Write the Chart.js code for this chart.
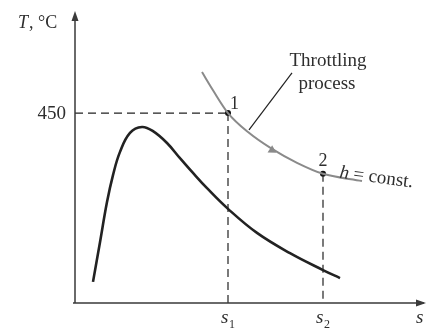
<!DOCTYPE html>
<html>
<head>
<meta charset="utf-8">
<script src="https://cdn.jsdelivr.net/npm/chart.js@4.4.1/dist/chart.umd.min.js"></script>
<style>
  html, body { margin: 0; padding: 0; background: #fff; }
  canvas { display: block; }
</style>
</head>
<body>
<canvas id="tsChart" width="427" height="328"></canvas>
<script>
// T-s diagram of a throttling process (arbitrary entropy units)
const DOME_S = [1.8, 2.5, 3.2, 3.8, 4.5, 5.5, 6.7, 7.8, 9.2, 10.5, 11.8, 13.2, 15.3, 18.2, 21.5, 24.8, 26.5];
const DOME_T = [50, 144, 239, 303, 358, 403, 417, 407, 379, 343, 308, 272, 223, 166, 118, 78, 59];

// constant-enthalpy line
const H_S = [12.7, 13.8, 15.3, 17.3, 19.7, 22.2, 24.8, 28.7];
const H_T = [547, 504, 450, 405, 365, 332, 306, 289];

// states 1 and 2
const STATE_NAMES = ['1', '2'];
const STATE_S = [15.3, 24.8];
const STATE_T = [450, 306];

// leader line for the "Throttling process" note, and the flow arrow
const LEADER_S = [21.7, 17.4];
const LEADER_T = [545, 410];
const ARROW_S = [19.7];
const ARROW_T = [362];

const Y_TICK = 450;
const X_TICK_LABELS = ['1', '2']; // s1, s2

const S_MAX = 34.7;
const T_MAX = 687;

const zip = (xs, ys) => xs.map((x, i) => ({ x: x, y: ys[i] }));

const INK = '#222';
const GREY = '#8a8a8a';
const SERIF = "'Liberation Serif', 'DejaVu Serif', serif";

const dashLine = (pts) => ({
    data: pts,
    showLine: true,
    borderColor: INK,
    borderWidth: 1.2,
    borderDash: [8, 5],
    pointRadius: 0,
    tension: 0
});

/* ---------- axes, arrows and text ---------- */
const decorPlugin = {
    id: 'decor',
    afterDraw(chart) {
        const ctx = chart.ctx;
        const xs = chart.scales.x, ys = chart.scales.y;
        const a = chart.chartArea;
        const X = v => xs.getPixelForValue(v);
        const Y = v => ys.getPixelForValue(v);

        ctx.save();
        ctx.strokeStyle = '#3a3a3a';
        ctx.fillStyle = '#3a3a3a';
        ctx.lineWidth = 1.5;

        // axes
        ctx.beginPath();
        ctx.moveTo(a.left, a.bottom);
        ctx.lineTo(a.left, a.top + 2);
        ctx.moveTo(a.left - 2, a.bottom);
        ctx.lineTo(a.right + 2, a.bottom);
        ctx.stroke();

        // arrowheads
        ctx.beginPath();
        ctx.moveTo(a.left, a.top - 2);
        ctx.lineTo(a.left - 3.5, a.top + 8);
        ctx.lineTo(a.left + 3.5, a.top + 8);
        ctx.closePath();
        ctx.fill();
        ctx.beginPath();
        ctx.moveTo(a.right + 4, a.bottom);
        ctx.lineTo(a.right - 6, a.bottom - 3.5);
        ctx.lineTo(a.right - 6, a.bottom + 3.5);
        ctx.closePath();
        ctx.fill();

        ctx.fillStyle = '#2e2e2e';
        ctx.textBaseline = 'alphabetic';

        // y label
        ctx.font = 'italic 18px ' + SERIF;
        ctx.textAlign = 'left';
        ctx.fillText('T', 18, 28);
        ctx.font = '18px ' + SERIF;
        ctx.fillText(', °C', 29, 28);

        // y tick
        ctx.textAlign = 'right';
        ctx.textBaseline = 'middle';
        ctx.font = '19px ' + SERIF;
        ctx.fillText(String(Y_TICK), a.left - 9, Y(Y_TICK) + 1);

        // x tick labels s1, s2 and axis name s
        ctx.textBaseline = 'alphabetic';
        STATE_S.forEach((s, i) => {
            const px = X(s);
            ctx.textAlign = 'left';
            ctx.font = 'italic 19px ' + SERIF;
            ctx.fillText('s', px - 7, a.bottom + 20);
            ctx.font = '12px ' + SERIF;
            ctx.fillText(X_TICK_LABELS[i], px + 1, a.bottom + 25);
        });
        ctx.font = 'italic 19px ' + SERIF;
        ctx.fillText('s', a.right - 6, a.bottom + 20);

        // state labels
        ctx.font = '18px ' + SERIF;
        ctx.textAlign = 'left';
        ctx.fillText(STATE_NAMES[0], X(STATE_S[0]) + 2, Y(STATE_T[0]) - 4);
        ctx.textAlign = 'center';
        ctx.fillText(STATE_NAMES[1], X(STATE_S[1]), Y(STATE_T[1]) - 8);

        // note
        ctx.font = '19px ' + SERIF;
        ctx.textAlign = 'center';
        ctx.fillText('Throttling', 328, 66);
        ctx.fillText('process', 327, 89);

        // h = const.
        ctx.save();
        ctx.translate(X(STATE_S[1]) + 16, Y(STATE_T[1]) + 4);
        ctx.rotate(0.13);
        ctx.textAlign = 'left';
        ctx.font = 'italic 19px ' + SERIF;
        ctx.fillText('h', 0, 0);
        ctx.font = '19px ' + SERIF;
        ctx.fillText(' = const.', 9, 0);
        ctx.restore();

        ctx.restore();
    }
};

new Chart(document.getElementById('tsChart').getContext('2d'), {
    type: 'scatter',
    data: {
        datasets: [
            {   // saturation dome
                data: zip(DOME_S, DOME_T),
                showLine: true,
                borderColor: INK,
                borderWidth: 2.6,
                pointRadius: 0,
                tension: 0.4
            },
            {   // h = const line
                data: zip(H_S, H_T),
                showLine: true,
                borderColor: GREY,
                borderWidth: 2,
                pointRadius: 0,
                cubicInterpolationMode: 'monotone'
            },
            dashLine([{ x: 0, y: Y_TICK }, { x: STATE_S[0], y: STATE_T[0] }]),
            dashLine([{ x: STATE_S[0], y: STATE_T[0] }, { x: STATE_S[0], y: 0 }]),
            dashLine([{ x: STATE_S[1], y: STATE_T[1] }, { x: STATE_S[1], y: 0 }]),
            {   // leader line
                data: zip(LEADER_S, LEADER_T),
                showLine: true,
                borderColor: INK,
                borderWidth: 1.2,
                pointRadius: 0,
                tension: 0
            },
            {   // flow arrow
                data: zip(ARROW_S, ARROW_T),
                pointStyle: 'triangle',
                rotation: 122,
                pointRadius: 5,
                backgroundColor: GREY,
                borderColor: GREY,
                borderWidth: 0
            },
            {   // states
                data: zip(STATE_S, STATE_T),
                pointRadius: 3,
                backgroundColor: '#111',
                borderColor: '#111',
                borderWidth: 0
            }
        ]
    },
    options: {
        responsive: false,
        animation: false,
        layout: { padding: { left: 75, right: 5, top: 13, bottom: 25 } },
        plugins: {
            legend: { display: false },
            tooltip: { enabled: false }
        },
        scales: {
            x: { type: 'linear', display: false, min: 0, max: S_MAX },
            y: { type: 'linear', display: false, min: 0, max: T_MAX }
        }
    },
    plugins: [decorPlugin]
});
</script>
</body>
</html>
